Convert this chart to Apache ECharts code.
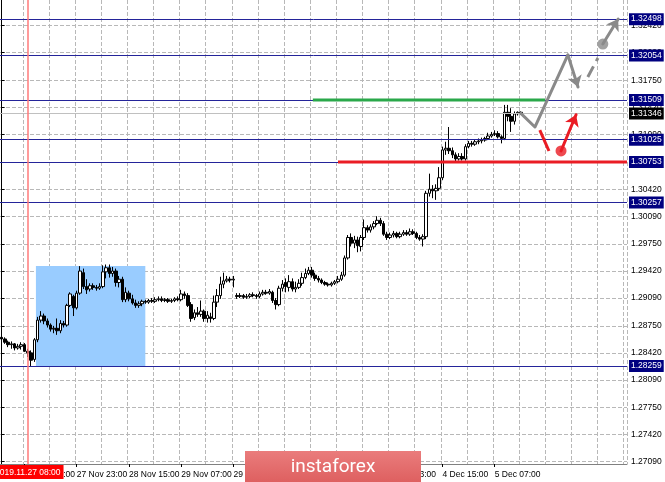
<!DOCTYPE html>
<html><head><meta charset="utf-8">
<script src="https://cdn.jsdelivr.net/npm/echarts@6/dist/echarts.min.js"></script>
<style>html,body{margin:0;padding:0;background:#fff}#c{width:665px;height:482px}</style>
</head><body><div id="c"></div>
<script>
// ---- hourly bars (GBP/USD H1) ----
const tradingDays = ['2019.11.27','2019.11.28','2019.11.29','2019.12.02','2019.12.03','2019.12.04','2019.12.05','2019.12.06'];
const hourNames = ['00','01','02','03','04','05','06','07','08','09','10','11','12','13','14','15','16','17','18','19','20','21','22','23'];
const categories = tradingDays.flatMap(d => hourNames.map(h => d + ' ' + h + ':00'));

const barOpen = [
1.2861,1.2859,1.2855,1.2852,1.2853,1.2848,1.2850,1.2852,1.2844,1.2842,
1.2834,1.2858,1.2882,1.2887,1.2881,1.2876,1.2871,1.2872,1.2869,1.2878,
1.2876,1.2900,1.2911,1.2897,1.2915,1.2940,1.2923,1.2920,1.2924,1.2922,
1.2921,1.2923,1.2941,1.2946,1.2939,1.2942,1.2928,1.2932,1.2907,1.2915,
1.2908,1.2903,1.2900,1.2902,1.2905,1.2904,1.2906,1.2905,1.2907,1.2908,
1.2906,1.2907,1.2905,1.2906,1.2908,1.2907,1.2914,1.2912,1.2901,1.2885,
1.2891,1.2889,1.2893,1.2884,1.2886,1.2884,1.2904,1.2912,1.2926,1.2930,
1.2932,1.2931,1.2912,1.2911,1.2912,1.2910,1.2911,1.2913,1.2912,1.2911,
1.2914,1.2916,1.2915,1.2916,1.2906,1.2901,1.2921,1.2928,1.2922,1.2929,
1.2920,1.2922,1.2927,1.2934,1.2939,1.2943,1.2937,1.2933,1.2931,1.2928,
1.2926,1.2925,1.2927,1.2929,1.2932,1.2937,1.2958,1.2983,1.2976,1.2980,
1.2972,1.2983,1.2995,1.2992,1.2996,1.3000,1.3004,1.3000,1.2987,1.2983,
1.2986,1.2988,1.2984,1.2987,1.2989,1.2987,1.2990,1.2988,1.2983,1.2981,
1.2984,1.3037,1.3042,1.3040,1.3043,1.3056,1.3090,1.3092,1.3089,1.3084,
1.3079,1.3082,1.3079,1.3094,1.3098,1.3097,1.3100,1.3101,1.3102,1.3104,
1.3107,1.3109,1.3110,1.3106,1.3104,1.3136,1.3131,1.3125,1.3134,1.3136];
const barClose = [
1.2859,1.2855,1.2852,1.2853,1.2848,1.2850,1.2852,1.2844,1.2842,1.2833,
1.2858,1.2882,1.2887,1.2881,1.2876,1.2871,1.2872,1.2869,1.2878,1.2876,
1.2900,1.2914,1.2897,1.2915,1.2942,1.2923,1.2919,1.2924,1.2922,1.2921,
1.2923,1.2941,1.2946,1.2939,1.2942,1.2928,1.2932,1.2907,1.2916,1.2908,
1.2903,1.2900,1.2902,1.2905,1.2904,1.2906,1.2905,1.2907,1.2908,1.2906,
1.2907,1.2905,1.2906,1.2908,1.2907,1.2914,1.2912,1.2900,1.2884,1.2891,
1.2889,1.2893,1.2884,1.2888,1.2884,1.2904,1.2912,1.2926,1.2930,1.2932,
1.2931,1.2932,1.2911,1.2912,1.2910,1.2911,1.2913,1.2912,1.2911,1.2914,
1.2916,1.2915,1.2917,1.2906,1.2901,1.2921,1.2926,1.2923,1.2929,1.2920,
1.2922,1.2927,1.2934,1.2939,1.2943,1.2937,1.2933,1.2931,1.2928,1.2926,
1.2925,1.2927,1.2929,1.2932,1.2937,1.2958,1.2983,1.2976,1.2980,1.2973,
1.2983,1.2995,1.2992,1.2996,1.3000,1.3004,1.3000,1.2987,1.2983,1.2986,
1.2988,1.2984,1.2987,1.2989,1.2987,1.2990,1.2988,1.2983,1.2981,1.2984,
1.3037,1.3042,1.3040,1.3043,1.3056,1.3090,1.3092,1.3089,1.3084,1.3079,
1.3082,1.3079,1.3094,1.3098,1.3097,1.3100,1.3101,1.3102,1.3104,1.3107,
1.3109,1.3110,1.3106,1.3104,1.3136,1.3131,1.3125,1.3134,1.3136,1.31346];
const barHigh = [
1.2864,1.2861,1.2857,1.2856,1.2854,1.2853,1.2855,1.2854,1.2847,1.2845,
1.2860,1.2886,1.2893,1.2890,1.2884,1.2878,1.2875,1.2884,1.2882,1.2881,
1.2902,1.2916,1.2913,1.2918,1.2948,1.2945,1.2932,1.2927,1.2927,1.2925,
1.2927,1.2949,1.2950,1.2950,1.2947,1.2945,1.2936,1.2935,1.2922,1.2918,
1.2913,1.2907,1.2905,1.2907,1.2907,1.2908,1.2909,1.2910,1.2911,1.2911,
1.2909,1.2909,1.2908,1.2910,1.2911,1.2919,1.2917,1.2915,1.2904,1.2895,
1.2898,1.2906,1.2895,1.2893,1.2891,1.2912,1.2920,1.2935,1.2940,1.2936,
1.2935,1.2936,1.2915,1.2915,1.2914,1.2914,1.2915,1.2916,1.2914,1.2917,
1.2919,1.2919,1.2920,1.2918,1.2909,1.2924,1.2931,1.2933,1.2937,1.2933,
1.2929,1.2932,1.2940,1.2945,1.2947,1.2947,1.2940,1.2936,1.2933,1.2930,
1.2928,1.2929,1.2931,1.2936,1.2941,1.2961,1.2986,1.2988,1.2985,1.2984,
1.2986,1.3005,1.2998,1.2999,1.3003,1.3009,1.3007,1.3003,1.2990,1.2989,
1.2991,1.2990,1.2990,1.2992,1.2992,1.2994,1.2993,1.2990,1.2986,1.2987,
1.3040,1.3061,1.3047,1.3048,1.3069,1.3094,1.3100,1.3118,1.3093,1.3087,
1.3086,1.3086,1.3097,1.3101,1.3101,1.3103,1.3104,1.3105,1.3106,1.3111,
1.3112,1.3114,1.3113,1.3108,1.3145,1.3145,1.3141,1.3137,1.3137,1.3137];
const barLow = [
1.2857,1.2853,1.2849,1.2847,1.2845,1.2846,1.2846,1.2843,1.2837,1.2826,
1.2831,1.2855,1.2879,1.2877,1.2873,1.2868,1.2866,1.2864,1.2866,1.2873,
1.2874,1.2898,1.2887,1.2895,1.2913,1.2920,1.2914,1.2917,1.2919,1.2918,
1.2919,1.2921,1.2933,1.2934,1.2935,1.2923,1.2922,1.2904,1.2904,1.2905,
1.2901,1.2897,1.2897,1.2899,1.2902,1.2902,1.2903,1.2903,1.2905,1.2904,
1.2904,1.2903,1.2903,1.2904,1.2905,1.2905,1.2908,1.2898,1.2880,1.2882,
1.2886,1.2886,1.2880,1.2879,1.2879,1.2882,1.2898,1.2908,1.2921,1.2928,
1.2928,1.2922,1.2908,1.2909,1.2908,1.2908,1.2909,1.2910,1.2908,1.2909,
1.2912,1.2913,1.2913,1.2903,1.2895,1.2899,1.2917,1.2916,1.2917,1.2917,
1.2916,1.2920,1.2924,1.2932,1.2937,1.2934,1.2930,1.2928,1.2926,1.2924,
1.2923,1.2923,1.2925,1.2927,1.2930,1.2935,1.2956,1.2972,1.2970,1.2965,
1.2966,1.2980,1.2989,1.2989,1.2993,1.2998,1.2997,1.2985,1.2980,1.2981,
1.2983,1.2982,1.2982,1.2985,1.2985,1.2985,1.2986,1.2981,1.2979,1.2972,
1.2981,1.3033,1.3031,1.3029,1.3040,1.3053,1.3084,1.3085,1.3080,1.3076,
1.3077,1.3077,1.3077,1.3092,1.3094,1.3095,1.3097,1.3098,1.3100,1.3102,
1.3105,1.3107,1.3104,1.3098,1.3102,1.3125,1.3112,1.3121,1.3132,1.3133];

// ---- price scale / tick labels ----
const yMin = 1.27062, yMax = 1.32732;
const yTicks = [1.2709,1.2742,1.2775,1.2809,1.2842,1.2875,1.2909,1.2942,1.2975,1.3009,1.3042,1.3075,1.3109,1.3142,1.3175,1.3209,1.3242];
const levelPrices = [1.32498,1.32054,1.31509,1.31025,1.30753,1.30257,1.28259];
const bidPrice = 1.31346;
const crossIndex = 8; // 2019.11.27 08:00

// ---- analysis drawings (bar index, price) ----
const boxArea = [[10.5, 1.28259], [44, 1.2948]];
const greenLevel = [[95.3, 1.31509], [166.4, 1.31509]];
const redLevel = [[103, 1.30753], [191.5, 1.30753]];
const grayPath = [[159, 1.31346], [163.3, 1.3118], [173.4, 1.3206]];
const grayArrow1 = [[173.4, 1.3206], [176.5, 1.31669]];
const grayDash = [[179.5, 1.31791], [182.6, 1.32023]];
const grayDot = [184.1, 1.32194];
const grayArrow2 = [[184.1, 1.32194], [188.8, 1.32500]];
const redDash = [[164.8, 1.31143], [167.6, 1.30887]];
const redDot = [171.3, 1.30887];
const redArrow = [[171.3, 1.30887], [175.9, 1.31330]];

const FONT = 'Liberation Sans';
const GRAY = '#8a8a8a', RED = '#ea1c24', NAVY = '#000080';
const GRID = '#b8b8b8';
const candleData = barOpen.map((o, i) => [o, barClose[i], barLow[i], barHigh[i]]);
const labelEvery = 16, gridEvery = 8;
const monthNames = {'11': 'Nov', '12': 'Dec'};
function fmtTime(v) {
  const [d, t] = v.split(' ');
  const p = d.split('.');
  return (+p[2]) + ' ' + monthNames[p[1]] + ' ' + t;
}

const chart = echarts.init(document.getElementById('c'), null, {renderer: 'canvas'});
chart.setOption({
  animation: false,
  backgroundColor: '#ffffff',
  grid: {left: 0, right: 38, top: 0, bottom: 18},
  xAxis: [{
    type: 'category', data: categories, boundaryGap: true, z: 1,
    axisLine: {show: true, lineStyle: {color: '#808080'}},
    axisTick: {show: true, alignWithLabel: true, interval: (i) => i % labelEvery === 7 && i < barClose.length, length: 3, lineStyle: {color: '#000'}},
    axisLabel: {interval: (i) => i % labelEvery === 7 && i < barClose.length, formatter: fmtTime, align: 'left',
      fontSize: 8.5, fontFamily: FONT, color: '#000', margin: 6},
    splitLine: {show: true, interval: (i) => i % gridEvery === 7, lineStyle: {color: GRID, width: 1, type: 'dashed'}}
  }, {
    type: 'value', min: -0.5, max: categories.length - 0.5, show: false
  }],
  yAxis: [{
    type: 'value', position: 'right', min: yMin, max: yMax, z: 1,
    axisLine: {show: true, lineStyle: {color: '#000'}},
    axisTick: {show: true, customValues: yTicks, length: 3, lineStyle: {color: '#000'}},
    axisLabel: {customValues: yTicks, formatter: (v) => v.toFixed(5), fontSize: 8.5, fontFamily: FONT, color: '#000', margin: 4},
    splitLine: {show: true, lineStyle: {color: GRID, width: 1, type: 'dashed'}}
  }],
  series: [
    { // rectangle
      type: 'line', xAxisIndex: 1, yAxisIndex: 0, data: [], z: 0, silent: true,
      markArea: {silent: true, itemStyle: {color: '#99ccff', opacity: 1},
        data: [[{coord: boxArea[0]}, {coord: boxArea[1]}]]}
    },
    { // levels
      type: 'line', xAxisIndex: 1, yAxisIndex: 0, data: [], z: 3, silent: true,
      markLine: {silent: true, precision: 6, symbol: ['none', 'none'], animation: false,
        label: {show: true, position: 'end', distance: 2, formatter: (p) => Number(p.value).toFixed(5),
          color: '#fff', backgroundColor: NAVY, padding: [2, 2, 1, 2], fontSize: 8.5, fontFamily: FONT},
        data: [{yAxis: bidPrice, lineStyle: {color: '#c0c0c0', width: 1, type: 'solid'},
                label: {backgroundColor: '#000'}}].concat(
              levelPrices.map(v => ({yAxis: v, lineStyle: {color: '#24249a', width: 1, type: 'solid'}})))}
    },
    {
      type: 'candlestick', xAxisIndex: 0, yAxisIndex: 0, data: candleData, z: 4, barWidth: 3,
      itemStyle: {color: '#ffffff', color0: '#000000', borderColor: '#000000', borderColor0: '#000000', borderWidth: 1}
    },
    {
      type: 'line', xAxisIndex: 1, yAxisIndex: 0, data: greenLevel, z: 5, showSymbol: false, silent: true,
      lineStyle: {color: '#2aa84a', width: 3}
    },
    {
      type: 'line', xAxisIndex: 1, yAxisIndex: 0, data: redLevel, z: 5, showSymbol: false, silent: true,
      lineStyle: {color: RED, width: 3}
    },
    {
      type: 'lines', coordinateSystem: 'cartesian2d', xAxisIndex: 1, yAxisIndex: 0, polyline: true, z: 6, silent: true,
      symbol: 'none', lineStyle: {color: GRAY, width: 3, opacity: 1, cap: 'round', join: 'round'},
      data: [{coords: grayPath}]
    },
    {
      type: 'lines', coordinateSystem: 'cartesian2d', xAxisIndex: 1, yAxisIndex: 0, z: 6, silent: true,
      symbol: ['none', 'arrow'], symbolSize: 11, lineStyle: {color: GRAY, width: 3, opacity: 1, cap: 'round'},
      data: [{coords: grayArrow1}, {coords: grayArrow2}]
    },
    {
      type: 'lines', coordinateSystem: 'cartesian2d', xAxisIndex: 1, yAxisIndex: 0, z: 6, silent: true,
      symbol: 'none', lineStyle: {color: GRAY, width: 3, opacity: 1, type: 'dashed'},
      data: [{coords: grayDash}]
    },
    {
      type: 'lines', coordinateSystem: 'cartesian2d', xAxisIndex: 1, yAxisIndex: 0, z: 6, silent: true,
      symbol: 'none', lineStyle: {color: RED, width: 3, opacity: 1},
      data: [{coords: redDash}]
    },
    {
      type: 'lines', coordinateSystem: 'cartesian2d', xAxisIndex: 1, yAxisIndex: 0, z: 6, silent: true,
      symbol: ['none', 'arrow'], symbolSize: 11, lineStyle: {color: RED, width: 3, opacity: 1, cap: 'round'},
      data: [{coords: redArrow}]
    },
    {
      type: 'scatter', xAxisIndex: 1, yAxisIndex: 0, z: 7, silent: true, symbolSize: 11,
      data: [{value: grayDot, itemStyle: {color: GRAY}}, {value: redDot, itemStyle: {color: RED}}]
    },
    { // crosshair
      type: 'line', xAxisIndex: 1, yAxisIndex: 0, data: [], z: 9, silent: true,
      markLine: {silent: true, precision: 6, symbol: ['none', 'none'], animation: false,
        lineStyle: {color: '#ff7a7a', width: 1.5, type: 'solid'},
        label: {show: true, position: 'start', distance: 1, formatter: categories[crossIndex],
          color: '#fff', backgroundColor: '#ff0000', padding: [3, 3, 2, 3], fontSize: 8.5, fontFamily: FONT},
        data: [{xAxis: crossIndex}]}
    }
  ],
  graphic: [
    {type: 'rect', shape: {x: 245, y: 451, width: 176, height: 31}, z: 100,
     style: {fill: new echarts.graphic.LinearGradient(0, 0, 0, 1, [{offset: 0, color: '#ea7c7c'}, {offset: 1, color: '#de6060'}])}},
    {type: 'text', x: 333, y: 467, z: 101,
     style: {text: 'instaforex', fill: '#ffffff', font: '19px Roboto', align: 'center', verticalAlign: 'middle'}}
  ]
});
</script>
</body></html>
